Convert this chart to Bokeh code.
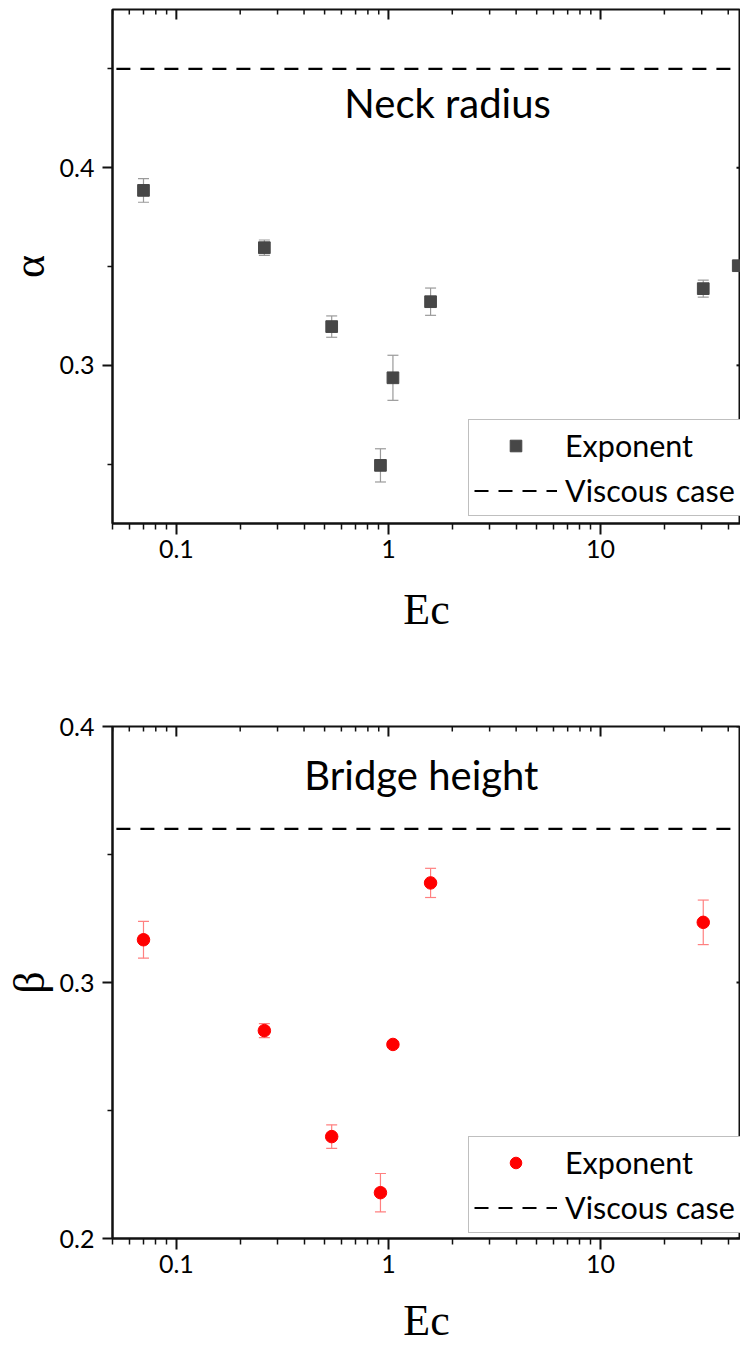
import math
from bokeh.plotting import figure
from bokeh.models import (FixedTicker, NumeralTickFormatter, Whisker, TeeHead,
                          ColumnDataSource, Label, Legend, LegendItem, Range1d)
from bokeh.layouts import column
from bokeh.embed import file_html
from bokeh.resources import INLINE

# ---------------- data ----------------
ec_alpha = [0.07, 0.26, 0.54, 0.917, 1.05, 1.58, 30.5, 44.6]
alpha = [0.3885, 0.3595, 0.3196, 0.2494, 0.2937, 0.3322, 0.3388, 0.3504]
alpha_err = [0.0060, 0.0039, 0.0054, 0.0084, 0.0114, 0.0069, 0.0043, 0.0]

ec_beta = [0.07, 0.26, 0.54, 0.917, 1.05, 1.58, 30.5]
beta = [0.3167, 0.2812, 0.2398, 0.2179, 0.2758, 0.3389, 0.3235]
beta_err = [0.0072, 0.0027, 0.0046, 0.0075, 0.0, 0.0057, 0.0087]

alpha_viscous = 0.45
beta_viscous = 0.36

x_ticks = [0.1, 1, 10]
x_tick_labels = ["0.1", "1", "10"]
x_minor = [m * 10.0 ** e for e in (-2, -1, 0, 1) for m in range(2, 10)]
alpha_ticks = [0.3, 0.4]
alpha_tick_labels = ["0.3", "0.4"]
alpha_minor = [0.25, 0.35, 0.45]
beta_ticks = [0.2, 0.3, 0.4]
beta_tick_labels = ["0.2", "0.3", "0.4"]
beta_minor = [0.25, 0.35]

X_START, X_END = 0.05, 45.7

SANS = "Lato"
SERIF = "Liberation Serif"
AX = "#111111"
WIDTH, LEFT = 740, 112


def style_axes(p, yticks, ylabels, yminor, ylab, xstandoff, yrange, frame_h):
    xa = p.xaxis[0]
    xa.ticker = FixedTicker(ticks=x_ticks, minor_ticks=x_minor)
    xa.formatter = NumeralTickFormatter(format="0.[0]")
    xa.major_label_overrides = {t: l for t, l in zip(x_ticks, x_tick_labels)}
    ya = p.yaxis[0]
    ya.ticker = FixedTicker(ticks=yticks, minor_ticks=yminor)
    ya.formatter = NumeralTickFormatter(format="0.0")
    ya.major_label_overrides = {t: l for t, l in zip(yticks, ylabels)}
    for ax in (xa, ya):
        ax.axis_line_width = 2
        ax.axis_line_color = AX
        ax.major_tick_line_width = 2
        ax.minor_tick_line_width = 1.5
        ax.major_tick_line_color = AX
        ax.minor_tick_line_color = AX
        ax.major_label_text_font = SANS
        ax.major_label_text_font_size = "25px"
        ax.major_label_text_color = "black"
        ax.axis_label_text_font = SERIF
        ax.axis_label_text_font_size = "44px"
        ax.axis_label_text_font_style = "normal"
        ax.axis_label_text_color = "black"
    xa.major_tick_out = 11
    xa.major_tick_in = 0
    xa.minor_tick_out = 6
    xa.minor_tick_in = 0
    xa.major_label_standoff = 5
    xa.axis_label = "Ec"
    xa.axis_label_standoff = xstandoff
    ya.major_tick_out = 10
    ya.major_tick_in = 0
    ya.minor_tick_out = 5
    ya.minor_tick_in = 0
    ya.major_label_standoff = 8
    ya.axis_label = ylab
    ya.axis_label_standoff = 3

    # mirrored inward ticks on the top and right frame edges
    y_top = yrange[1]
    per_px = (yrange[1] - yrange[0]) / frame_h
    p.segment(x0=x_ticks, y0=[y_top] * len(x_ticks), x1=x_ticks,
              y1=[y_top - 10 * per_px] * len(x_ticks), line_color=AX,
              line_width=2)
    p.segment(x0=x_minor, y0=[y_top] * len(x_minor), x1=x_minor,
              y1=[y_top - 5 * per_px] * len(x_minor), line_color=AX,
              line_width=1.5)
    decades_per_px = (math.log10(X_END) - math.log10(X_START)) / (WIDTH - LEFT)
    x_in = X_END / 10 ** (4 * decades_per_px)
    p.segment(x0=[X_END] * len(yticks), y0=yticks, x1=[x_in] * len(yticks),
              y1=yticks, line_color=AX, line_width=2)

    p.outline_line_color = AX
    p.outline_line_width = 2
    p.xgrid.visible = False
    p.ygrid.visible = False


def make_panel(height, border_top, border_bottom, yrange, xs, ys, errs,
               marker, size, color, err_color, visc, yticks, ylabels, yminor,
               ylab, title, title_x, title_y, legend_y, xstandoff):
    p = figure(width=WIDTH, height=height, x_axis_type="log",
               x_range=Range1d(X_START, X_END), y_range=Range1d(*yrange),
               output_backend="svg", toolbar_location=None,
               min_border_left=LEFT, min_border_right=0,
               min_border_top=border_top, min_border_bottom=border_bottom,
               background_fill_color="white", border_fill_color="white")
    style_axes(p, yticks, ylabels, yminor, ylab, xstandoff, yrange,
               height - border_top - border_bottom)

    ex = [x for x, e in zip(xs, errs) if e > 0]
    eu = [y + e for y, e in zip(ys, errs) if e > 0]
    el = [y - e for y, e in zip(ys, errs) if e > 0]
    wsrc = ColumnDataSource(dict(x=ex, upper=eu, lower=el))
    w = Whisker(base="x", upper="upper", lower="lower", source=wsrc,
                dimension="height", line_color=err_color, line_width=1.2,
                level="underlay")
    w.upper_head = TeeHead(size=11, line_color=err_color, line_width=1.2)
    w.lower_head = TeeHead(size=11, line_color=err_color, line_width=1.2)
    p.add_layout(w)

    sc = p.scatter(xs, ys, marker=marker, size=size, fill_color=color,
                   line_color=color)
    ln = p.line([X_START * 0.1, X_END * 10], [visc, visc], line_color="black",
                line_width=2.2, line_dash="14 10")

    legend = Legend(items=[LegendItem(label="Exponent", renderers=[sc]),
                           LegendItem(label="Viscous case", renderers=[ln])],
                    location=(356, legend_y), glyph_width=83, glyph_height=29,
                    label_height=40, label_standoff=8, spacing=5, padding=5,
                    margin=0, border_line_color="#7f7f7f", border_line_width=1.5,
                    background_fill_color="white", background_fill_alpha=1,
                    label_text_font=SANS, label_text_font_size="30.5px",
                    label_text_color="black")
    p.add_layout(legend, "center")

    p.add_layout(Label(x=title_x, y=title_y, text=title, text_align="center",
                       text_baseline="middle", text_font=SANS,
                       text_font_size="40px", text_color="black"))
    return p


p1 = make_panel(663, 9, 140, (0.22, 0.48), ec_alpha, alpha, alpha_err,
                "square", 11.7, "#474747", "#9a9a9a", alpha_viscous,
                alpha_ticks, alpha_tick_labels, alpha_minor, "α",
                "Neck radius", 1.9, 0.4327, 7, 24)
p2 = make_panel(684, 63, 109, (0.2, 0.4), ec_beta, beta, beta_err,
                "circle", 12.5, "#ff0000", "#ff8080", beta_viscous,
                beta_ticks, beta_tick_labels, beta_minor, "β",
                "Bridge height", 1.43, 0.3810, 5, 20)

layout = column(p1, p2, spacing=0)
open("out.html", "w").write(file_html(layout, INLINE))
